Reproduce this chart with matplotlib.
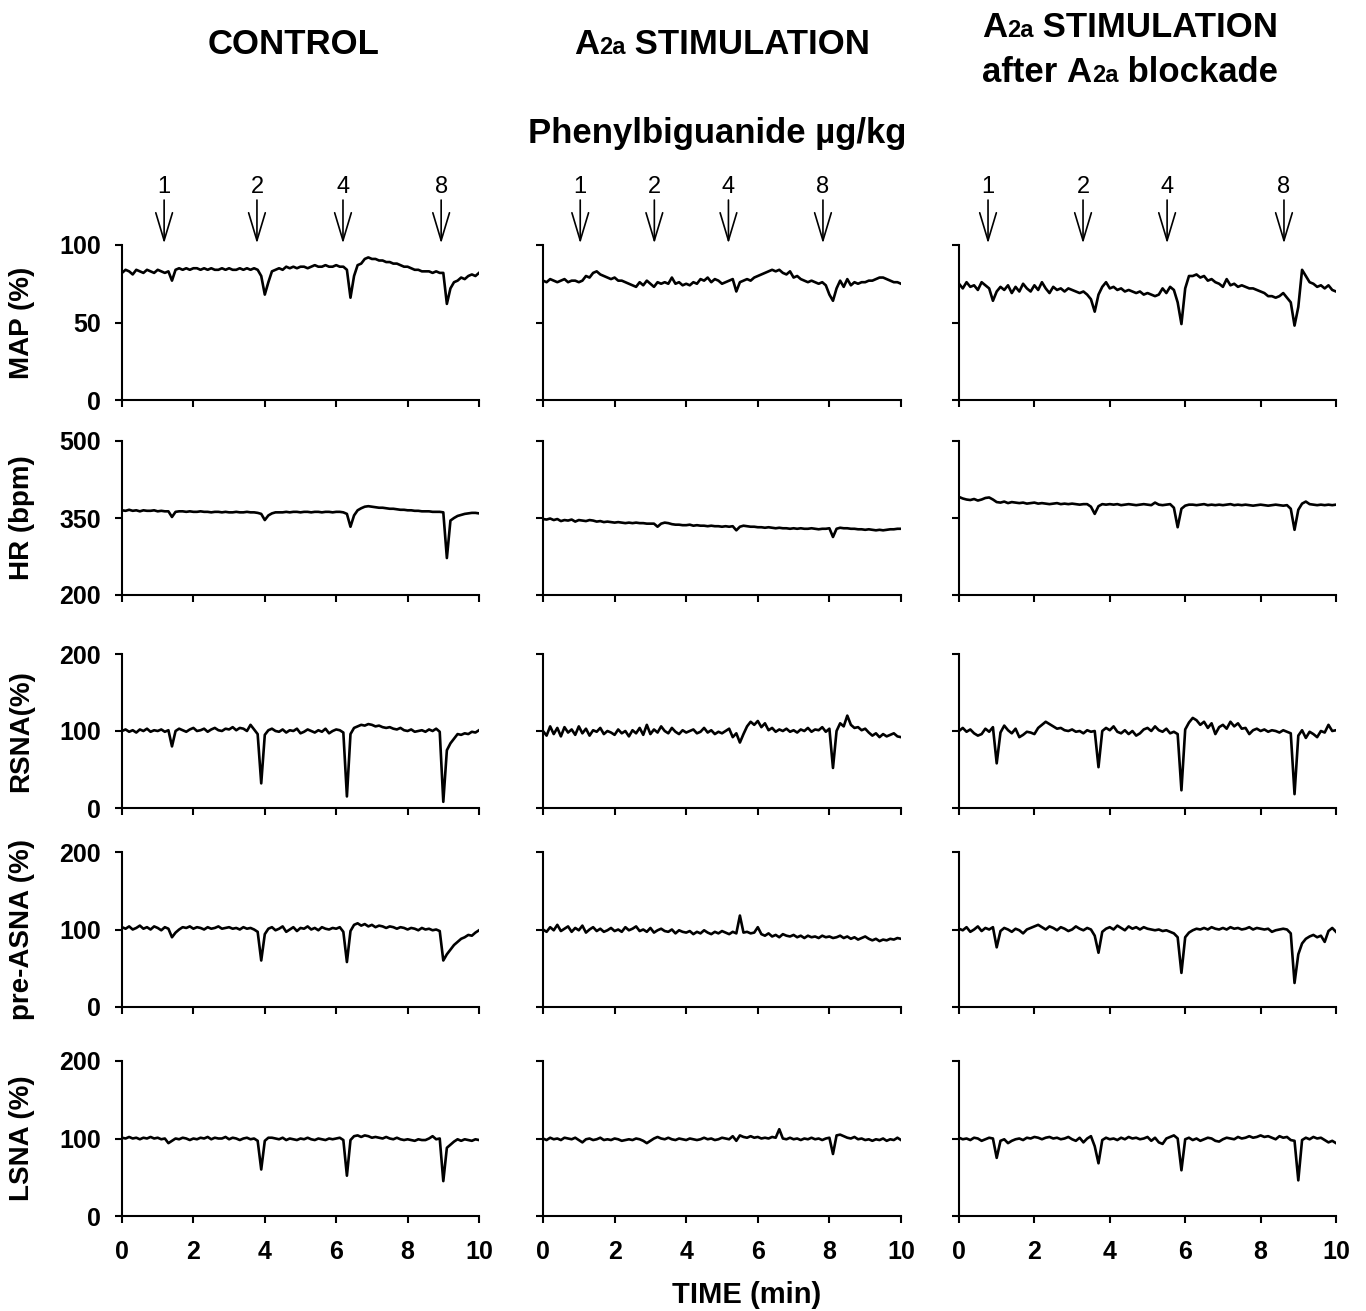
import numpy as np
import matplotlib
matplotlib.use("Agg")
from matplotlib import pyplot as plt
from matplotlib.offsetbox import TextArea, HPacker, VPacker, AnnotationBbox

plt.rcParams["font.family"] = ["Liberation Sans", "DejaVu Sans"]

# ---- data (one value every 0.1 min, 0..10 min) ----
row_labels = ["MAP (%)", "HR (bpm)", "RSNA(%)", "pre-ASNA (%)", "LSNA (%)"]
row_limits = [(0, 100), (200, 500), (0, 200), (0, 200), (0, 200)]
row_ticks = [[0, 50, 100], [200, 350, 500], [0, 100, 200], [0, 100, 200], [0, 100, 200]]

doses = ["1", "2", "4", "8"]
dose_times_control = [1.18, 3.78, 6.19, 8.94]
dose_times_stim = [1.04, 3.11, 5.18, 7.82]
dose_times_block = [0.77, 3.29, 5.52, 8.62]

# CONTROL
control_map = [82, 84, 83, 81, 84, 83, 82, 84, 83, 82, 84, 83, 82, 83, 77,
               84, 85, 84, 85, 84, 85, 85, 84, 85, 84, 85, 84, 84, 85, 84, 85, 84, 84, 85, 84, 85, 84, 85, 84,
               80, 68, 76, 83, 84,
               85, 84, 86, 85, 86, 85, 86, 86, 85, 86, 87, 86, 86, 87, 86, 86, 87, 86, 86,
               84, 66, 80, 87, 88, 91, 92, 91, 91, 90, 90, 89, 89, 88, 88, 87, 86, 86, 85, 84, 84, 83, 83, 83, 82, 83, 82, 82,
               62, 72, 76, 77, 79, 78, 80, 81, 80, 82]
control_hr = [365, 364, 366, 364, 365, 363, 365, 364, 364, 365, 363, 364, 363, 363, 352, 362,
              363, 363, 362, 363, 362, 362, 363, 362, 362, 361, 362, 362, 361, 362, 361, 361, 362, 361, 361, 362, 361, 361, 360,
              358, 346, 355, 359, 361,
              361, 361, 362, 361, 362, 362, 361, 362, 362, 361, 362, 362, 361, 362, 362, 361, 362, 362, 361,
              358, 333, 355, 365, 369, 372, 373, 372, 371, 370, 370, 369, 368, 368, 367, 366, 366, 365, 365, 364, 364, 363, 363, 363, 362, 362, 362, 361,
              272, 345, 350, 354, 356, 358, 359, 360, 360, 359]
control_rsna = [100, 102, 99, 101, 98, 102, 100, 103, 99, 101, 100, 102, 99, 101, 80,
                100, 103, 101, 99, 102, 104, 100, 101, 103, 99, 102, 104, 101, 100, 103, 102, 105, 101, 104, 103, 100, 108, 102,
                96, 32, 95, 101,
                103, 100, 99, 102, 98, 101, 100, 103, 97, 99, 102, 100, 98, 101, 99, 103, 97, 100, 102, 101,
                98, 15,
                96, 104, 106, 108, 107, 109, 108, 106, 107, 105, 104, 105, 103, 102, 104, 101, 100, 102, 99, 100, 101, 99, 102, 100, 103, 99,
                8, 75, 84, 90, 96, 95, 97, 96, 99, 98, 101]
control_preasna = [103, 101, 104, 100, 102, 105, 101, 103, 100, 104, 102, 99, 103, 101, 90, 96, 100,
                   103, 102, 104, 101, 103, 102, 100, 103, 101, 102, 104, 101, 102, 103, 101, 102, 100, 103, 101, 102, 100,
                   97, 60, 94, 101,
                   103, 99, 101, 104, 97, 100, 103, 98, 102, 101, 104, 100, 102, 99, 103, 101, 100, 102, 101, 103,
                   97, 58, 98, 106, 108, 105, 107, 104, 106, 103, 105, 104, 102, 104, 103, 101, 103, 102, 100, 102, 101, 99, 102, 100, 101, 99, 100, 98,
                   60, 68, 74, 80, 84, 88, 90, 93, 92, 96, 99]
control_lsna = [101, 100, 102, 100, 101, 99, 101, 100, 102, 100, 101, 99, 100, 94, 97,
                100, 99, 101, 100, 98, 100, 99, 101, 100, 102, 99, 101, 100, 100, 102, 99, 101, 100, 98, 100, 101, 99, 100,
                97, 60, 97, 101,
                101, 100, 99, 101, 98, 100, 99, 98, 100, 99, 101, 99, 98, 100, 99, 98, 100, 99, 100, 101,
                98, 52, 98, 103, 104, 102, 104, 103, 101, 102, 101, 100, 102, 100, 99, 101, 99, 98, 99, 98, 97, 99, 98, 98, 100, 103, 99, 100,
                45, 88, 92, 96, 99, 97, 99, 98, 97, 99, 98]

# A2a STIMULATION
stim_map = [77, 76, 78, 77, 76, 77, 78, 76, 77, 77, 76,
            77, 80, 79, 82, 83, 81, 80, 79, 78, 79, 77, 77, 76, 75, 74, 73, 76, 74, 77, 75, 73, 76, 75, 76, 75, 79, 75, 76, 74, 75, 74, 76, 75,
            78, 77, 79, 76, 78, 77, 75, 76, 77, 78,
            70, 76, 77, 78, 77, 79, 80, 81, 82, 83, 84, 83, 84, 82, 81, 83, 79, 80, 78, 77, 76, 77, 76, 75, 76, 74,
            68, 64, 72, 77, 73, 78, 74, 76, 75, 76, 76, 77, 77, 78, 79, 79, 78, 77, 76, 76, 75]
stim_hr = [348, 347, 349, 346, 348, 344, 346, 345, 347, 343, 346, 345, 344, 346, 345, 343, 344, 342, 343, 342, 341, 342, 341, 340, 341, 340, 341, 340, 340, 339, 339,
           339, 333, 339, 341, 340, 338,
           337, 337, 336, 336, 337, 335, 336, 335, 335, 334, 335, 334, 334, 333, 334, 333, 334,
           326, 333, 335, 334,
           333, 333, 332, 332, 331, 332, 331, 330, 331, 330, 330, 329, 330, 329, 330, 329, 329, 330, 329, 328, 329, 329, 330,
           313, 329, 331, 330,
           330, 329, 329, 328, 328, 327, 328, 327, 326, 327, 326, 327, 328, 328, 329, 329]
stim_rsna = [100, 94, 106, 96, 104, 93, 105, 98, 102, 95, 106, 97, 103, 94, 101, 99, 104, 96, 100, 98, 95, 102, 97, 100, 93, 101,
             97, 104, 95, 108, 96, 102, 98, 106, 100, 97, 104, 99, 96, 101, 98, 100, 102, 97, 99, 104, 98, 101, 96, 99, 97,
             100, 103, 92, 97, 85, 96, 106, 112,
             108, 113, 105, 110, 101, 104, 99, 102, 100, 103, 99, 101, 98, 102, 100, 104, 99, 102, 101, 105, 99, 103,
             52, 100, 110, 106, 120, 108, 104, 105, 101, 103, 98, 94, 97, 92, 96, 93, 95, 97, 93, 92]
stim_preasna = [100, 97, 103, 99, 106, 98, 101, 104, 97, 102, 99, 105, 96, 100, 103, 98, 101, 97, 99, 102, 98, 100, 97, 103, 99, 101, 104, 98,
                100, 97, 102, 96, 99, 101, 98, 97, 100, 95, 99, 97, 96, 98, 94, 97, 95, 99, 96, 94, 97, 95, 98, 96, 94, 97, 95,
                118, 96, 97, 95, 96, 103, 94, 92, 95, 91, 93, 90, 94, 92, 91, 93, 90, 92, 89, 92, 90, 91, 89, 92, 90, 91,
                89, 90, 92, 89, 91, 88, 90, 87, 89, 91, 88, 86, 88, 85, 87, 86, 88, 87, 89, 88]
stim_lsna = [100, 98, 101, 99, 100, 98, 101, 100, 99, 101, 98, 95, 99,
             100, 98, 99, 101, 98, 99, 98, 100, 99, 97, 98, 99, 98, 100, 99, 97,
             94, 97, 100, 102,
             100, 99, 101, 99, 98, 100, 99, 98, 100, 99, 98, 99, 101, 99, 100, 98, 99, 101, 100, 99, 103,
             97, 104, 102, 101, 103, 101, 102, 100, 101, 100, 102, 101, 112, 100, 99, 101, 99, 100, 98, 100, 99, 101, 99, 100, 98, 100, 101,
             80, 104, 105, 103, 101, 100, 102, 99, 100, 98, 99, 97, 99, 98, 100, 97, 99, 98, 101, 98]

# A2a STIMULATION after A2a blockade
block_map = [75, 72, 76, 73, 74, 71, 76, 74, 72, 64, 70, 73,
             71, 74, 69, 73, 70, 75, 72, 70, 74, 71, 76, 72, 69, 73, 71, 72, 70, 72, 71, 70, 69, 70,
             68, 65, 57, 68, 73, 76,
             72, 73, 71, 72, 70, 71, 70, 69, 70, 68, 69, 68, 67, 68, 72, 69, 73,
             71, 63, 49, 72, 80, 80, 81, 79, 80, 77, 78, 76, 75, 73, 78, 74, 75, 73, 74, 73, 72, 72, 71, 70, 69, 67, 67, 66, 67, 69, 66,
             63, 48, 60, 84, 80, 76, 75, 73, 74, 72, 74, 71, 70]
block_hr = [391, 388, 386, 385, 387, 384, 386, 389, 390, 386, 381,
            380, 382, 379, 381, 380, 379, 380, 378, 379, 380, 378, 379, 378, 377, 378, 379, 377, 378, 377, 378, 377, 376, 377, 377,
            372, 358, 373, 377,
            376, 377, 376, 377, 375, 376, 377, 376, 375, 376, 377, 376, 375, 380, 376, 375, 376, 377,
            370, 332, 368, 374, 376,
            376, 375, 376, 377, 375, 376, 375, 376, 375, 376, 377, 375, 376, 375, 376, 375, 374, 375, 376, 375, 374, 375, 376, 375, 374, 375,
            368, 327, 366, 378, 382, 377, 376, 375, 376, 375, 376, 375, 376]
block_rsna = [100, 104, 99, 102, 97, 94, 96, 103, 99, 105, 58, 98, 107, 101, 97,
              103, 92, 95, 99, 98, 96, 104, 108, 112, 109, 106, 103, 104, 101, 100, 102, 99, 100, 97, 101, 99, 100,
              53, 100, 104, 101,
              106, 99, 97, 101, 96, 100, 94, 97, 102, 104, 100, 106, 101, 99, 103, 97, 99,
              96, 23, 102, 111, 117, 114, 108, 112, 104, 110, 96, 105, 108, 103, 112, 106, 110, 103, 104, 96, 101, 103, 100, 102, 99, 101, 100, 98, 101, 99, 97,
              18, 94, 101, 91, 99, 96, 92, 100, 98, 108, 100, 101]
block_preasna = [101, 99, 103, 97, 100, 104, 98, 102, 100, 103,
                 77, 98, 102, 100, 97, 101, 99, 95, 100, 102, 104, 106, 103, 100, 104, 102, 99, 103, 101, 98, 100, 104, 101, 99, 102, 100, 92,
                 70, 97, 101, 103, 100, 105, 102, 99, 104, 101, 103, 100, 103, 101, 100, 99, 100, 98, 99, 97, 95, 90,
                 44, 90, 96, 99, 101, 100, 102, 100, 103, 101, 100, 102, 100, 103, 101, 102, 100, 101, 103, 100, 102, 101, 100, 101, 97, 99, 100, 101, 100, 95,
                 31, 68, 82, 88, 91, 93, 90, 92, 84, 98, 102, 97]
block_lsna = [101, 99, 100, 98, 101, 100, 97, 99, 101, 100,
              75, 97, 99, 94, 97, 99, 100, 98, 101, 100, 102, 101, 99, 101, 102, 100, 101, 99, 100, 102, 99, 97, 101, 95, 100, 103, 90,
              68, 98, 101, 99, 100, 98, 101, 99, 102, 100, 101, 99, 100, 102, 97, 101, 95, 93, 100, 102, 104, 100,
              59, 99, 101, 98, 100, 97, 99, 101, 100, 97, 96, 99, 101, 100, 99, 102, 100, 101, 103, 101, 102, 104, 102, 103, 101, 99, 103, 101, 102, 98,
              97, 46, 98, 101, 99, 102, 100, 101, 98, 95, 97, 94]

columns = [
    [control_map, control_hr, control_rsna, control_preasna, control_lsna],
    [stim_map, stim_hr, stim_rsna, stim_preasna, stim_lsna],
    [block_map, block_hr, block_rsna, block_preasna, block_lsna],
]
dose_times = [dose_times_control, dose_times_stim, dose_times_block]

# ---- layout (pixel boxes of the original figure) ----
W, H = 1366, 1311
col_px = [(122, 479), (543, 901), (959, 1336)]
row_px = [(245, 400), (441, 595), (654, 808), (852, 1007), (1061, 1216)]

fig = plt.figure(figsize=(W / 100, H / 100), dpi=100)

for c, (x0, x1) in enumerate(col_px):
    for r, (y0, y1) in enumerate(row_px):
        ax = fig.add_axes([x0 / W, 1 - y1 / H, (x1 - x0) / W, (y1 - y0) / H])
        vals = columns[c][r]
        t = np.linspace(0, 10, len(vals))
        ax.plot(t, vals, color="k", lw=1.9)
        ax.set_xlim(0, 10)
        ax.set_ylim(*row_limits[r])
        ax.set_yticks(row_ticks[r])
        ax.set_xticks([0, 2, 4, 6, 8, 10])
        for s in ["top", "right"]:
            ax.spines[s].set_visible(False)
        for s in ["left", "bottom"]:
            ax.spines[s].set_linewidth(1.5)
        ax.tick_params(axis="y", direction="out", length=5, width=1.5, pad=10, labelsize=18)
        ax.tick_params(axis="x", direction="out", length=5, width=1.5, pad=12, labelsize=18)
        for lab in ax.get_xticklabels() + ax.get_yticklabels():
            lab.set_fontweight("bold")
        if c > 0:
            ax.set_yticklabels([])
        else:
            ax.set_ylabel(row_labels[r], fontsize=20, fontweight="bold")
            ax.yaxis.set_label_coords(-0.245, 0.5)
        if r < 4:
            ax.set_xticklabels([])
        if r == 0:
            for d, tm in zip(doses, dose_times[c]):
                ax.annotate("", xy=(tm, 1.01), xycoords=("data", "axes fraction"),
                            xytext=(tm, 1.29), textcoords=("data", "axes fraction"),
                            arrowprops=dict(arrowstyle="->,head_length=1.0,head_width=0.3",
                                            lw=1.2, color="k", shrinkA=0, shrinkB=0,
                                            mutation_scale=20))
                ax.text(tm, 1.375, d, transform=ax.get_xaxis_transform(),
                        ha="center", va="center", fontsize=17)

# ---- titles ----
big = dict(fontsize=25, fontweight="bold", color="k")
small = dict(fontsize=17, fontweight="bold", color="k")


def a2a_line(before, after):
    parts = []
    if before:
        parts.append(TextArea(before, textprops=big))
    parts.append(TextArea("A", textprops=big))
    parts.append(TextArea("2a", textprops=small))
    parts.append(TextArea(after, textprops=big))
    return HPacker(children=parts, align="baseline", pad=0, sep=0)


fig.text(294 / W, 1 - 45 / H, "CONTROL", ha="center", va="center", **big)

box = AnnotationBbox(a2a_line("", " STIMULATION"), (722 / W, 1 - 45 / H),
                     xycoords="figure fraction", box_alignment=(0.5, 0.5), frameon=False)
fig.add_artist(box)

two = VPacker(children=[a2a_line("", " STIMULATION"), a2a_line("after ", " blockade")],
              align="center", pad=0, sep=8)
box2 = AnnotationBbox(two, (1130 / W, 1 - 50 / H), xycoords="figure fraction",
                      box_alignment=(0.5, 0.5), frameon=False)
fig.add_artist(box2)

fig.text(717 / W, 1 - 133 / H, "Phenylbiguanide µg/kg", ha="center", va="center", **big)
fig.text(747 / W, 1 - 1295 / H, "TIME (min)", ha="center", va="center", fontsize=21, fontweight="bold")

fig.savefig("out.png", dpi=100)
